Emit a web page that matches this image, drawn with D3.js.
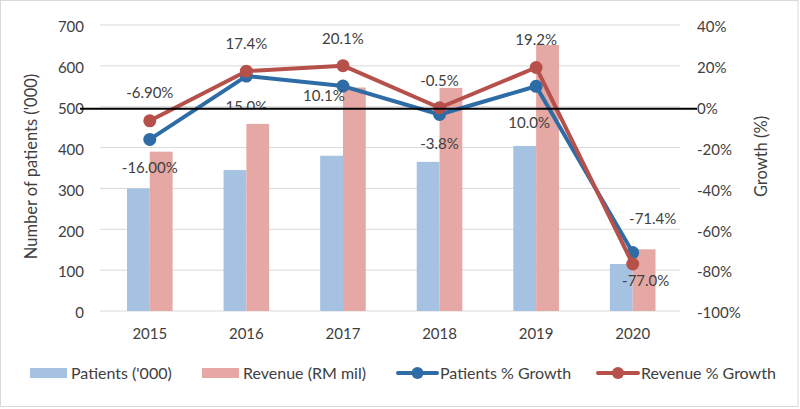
<!DOCTYPE html>
<html><head><meta charset="utf-8">
<script src="https://cdn.jsdelivr.net/npm/d3@7"></script>
<style>
html,body{margin:0;padding:0;background:#fff;}
text{font-family:Lato,"Liberation Sans",sans-serif;fill:#404040;}
</style></head>
<body>
<svg id="c" width="800" height="409"></svg>
<script>
const years = ["2015","2016","2017","2018","2019","2020"];
const patients = [300, 345, 380, 365, 404, 115];
const revenue = [390, 458, 547, 546, 651, 151];
const patientsGrowth = [-16.0, 15.0, 10.1, -3.8, 10.0, -71.4];
const revenueGrowth = [-6.9, 17.4, 20.1, -0.5, 19.2, -77.0];
const patientsGrowthLabels = ["-16.00%","15.0%","10.1%","-3.8%","10.0%","-71.4%"];
const revenueGrowthLabels = ["-6.90%","17.4%","20.1%","-0.5%","19.2%","-77.0%"];
const leftTicks = [0,100,200,300,400,500,600,700];
const rightTicks = [-100,-80,-60,-40,-20,0,20,40];

const C = {pBar:"#a5c2e3", rBar:"#e5a8a4", pLine:"#2e6ca5", rLine:"#b6504b", grid:"#d9d9d9"};
const FONT = "Lato,'Liberation Sans',sans-serif";
const svg = d3.select("#c");

svg.append("rect").attr("x",0.5).attr("y",0.5).attr("width",797.5).attr("height",406)
  .attr("fill","#fff").attr("stroke","#d9d9d9");

const x = d3.scaleBand().domain(years).range([101.5,681]);
const y = d3.scaleLinear().domain([0,700]).range([311,25]);
const y2 = d3.scaleLinear().domain([-100,40]).range([311,25]);

// gridlines
svg.append("g").selectAll("line").data(leftTicks).join("line")
  .attr("x1",100).attr("x2",680).attr("y1",d=>y(d)).attr("y2",d=>y(d))
  .attr("stroke",C.grid).attr("stroke-width",1);

// left axis labels
const la = svg.append("g").attr("transform","translate(84,2)")
  .call(d3.axisLeft(y).tickValues(leftTicks).tickSize(0).tickPadding(0));
la.select(".domain").remove();
la.selectAll("text").style("font-size","15px").style("font-family",FONT).attr("fill","#404040");

// right axis labels
const ra = svg.append("g").attr("transform","translate(697,2)")
  .call(d3.axisRight(y2).tickValues(rightTicks).tickSize(0).tickPadding(0).tickFormat(d=>d+"%"));
ra.select(".domain").remove();
ra.selectAll("text").style("font-size","15px").style("font-family",FONT).attr("fill","#404040");

// x axis labels
const xa = svg.append("g").attr("transform","translate(0,322)")
  .call(d3.axisBottom(x).tickSize(0).tickPadding(6));
xa.select(".domain").remove();
xa.selectAll("text").style("font-size","15px").style("font-family",FONT).attr("fill","#404040");

// bars
const bw = 22.8;
const g = svg.append("g");
g.selectAll(".pb").data(years).join("rect")
  .attr("x",(d)=>x(d)+x.bandwidth()/2-bw).attr("width",bw)
  .attr("y",(d,i)=>y(patients[i])).attr("height",(d,i)=>y(0)-y(patients[i]))
  .attr("fill",C.pBar);
g.selectAll(".rb").data(years).join("rect")
  .attr("x",(d)=>x(d)+x.bandwidth()/2).attr("width",bw)
  .attr("y",(d,i)=>y(revenue[i])).attr("height",(d,i)=>y(0)-y(revenue[i]))
  .attr("fill",C.rBar);

// lines
const cx = d=>x(d)+x.bandwidth()/2;
function drawLine(vals,color){
  const line = d3.line().x((d,i)=>cx(years[i])).y(d=>y2(d));
  svg.append("path").datum(vals).attr("d",line).attr("fill","none")
    .attr("stroke",color).attr("stroke-width",4).attr("stroke-linejoin","round");
  svg.append("g").selectAll("circle").data(vals).join("circle")
    .attr("cx",(d,i)=>cx(years[i])).attr("cy",d=>y2(d)).attr("r",6.5).attr("fill",color);
}
drawLine(patientsGrowth,C.pLine);
drawLine(revenueGrowth,C.rLine);

// zero line position (slightly below the 0% gridline, as in the original)
const zeroY = y2(0) + 2;
svg.append("defs").append("clipPath").attr("id","aboveZero")
  .append("rect").attr("x",0).attr("y",0).attr("width",800).attr("height",zeroY);

// data labels (offsets relative to point: [dx, dy of visual center])
const pOff = [[0,28.5],[0,30],[-19,9],[0,29.5],[-7,36],[20,-34.5]];
const rOff = [[0,-28],[0,-28],[0,-27.5],[0,-27.5],[0,-27.5],[13,16]];
const lab = svg.append("g").style("font-size","15px");
lab.selectAll(".pl").data(patientsGrowthLabels).join("text")
  .attr("x",(d,i)=>cx(years[i])+pOff[i][0]).attr("y",(d,i)=>y2(patientsGrowth[i])+pOff[i][1]+5.5)
  .attr("text-anchor","middle")
  .attr("clip-path",(d,i)=>{ const yy=y2(patientsGrowth[i])+pOff[i][1]; return (yy<zeroY && yy+6>zeroY)?"url(#aboveZero)":null; })
  .text(d=>d);
lab.selectAll(".rl").data(revenueGrowthLabels).join("text")
  .attr("x",(d,i)=>cx(years[i])+rOff[i][0]).attr("y",(d,i)=>y2(revenueGrowth[i])+rOff[i][1]+5.5)
  .attr("text-anchor","middle").text(d=>d);

// zero line
svg.append("line").attr("x1",80).attr("x2",697).attr("y1",zeroY).attr("y2",zeroY)
  .attr("stroke","#000").attr("stroke-width",2);

// axis titles
svg.append("text").attr("transform","translate(37,166.5) rotate(-90)")
  .attr("text-anchor","middle").style("font-size","16.5px").text("Number of patients ('000)");
svg.append("text").attr("transform","translate(767,156.5) rotate(-90)")
  .attr("text-anchor","middle").style("font-size","16.5px").text("Growth (%)");

// legend
const leg = svg.append("g").style("font-size","16px");
const legY = 373;
leg.append("rect").attr("x",30).attr("y",legY-5).attr("width",37).attr("height",10).attr("fill",C.pBar);
leg.append("text").attr("x",71).attr("y",legY+6).text("Patients ('000)");
leg.append("rect").attr("x",202).attr("y",legY-5).attr("width",37).attr("height",10).attr("fill",C.rBar);
leg.append("text").attr("x",243).attr("y",legY+6).text("Revenue (RM mil)");
leg.append("line").attr("x1",398).attr("x2",437).attr("y1",legY).attr("y2",legY).attr("stroke",C.pLine).attr("stroke-width",4).attr("stroke-linecap","round");
leg.append("circle").attr("cx",417.5).attr("cy",legY).attr("r",6).attr("fill",C.pLine);
leg.append("text").attr("x",440).attr("y",legY+6).text("Patients % Growth");
leg.append("line").attr("x1",598).attr("x2",638).attr("y1",legY).attr("y2",legY).attr("stroke",C.rLine).attr("stroke-width",4).attr("stroke-linecap","round");
leg.append("circle").attr("cx",618).attr("cy",legY).attr("r",6).attr("fill",C.rLine);
leg.append("text").attr("x",641).attr("y",legY+6).text("Revenue % Growth");
</script>
</body></html>
